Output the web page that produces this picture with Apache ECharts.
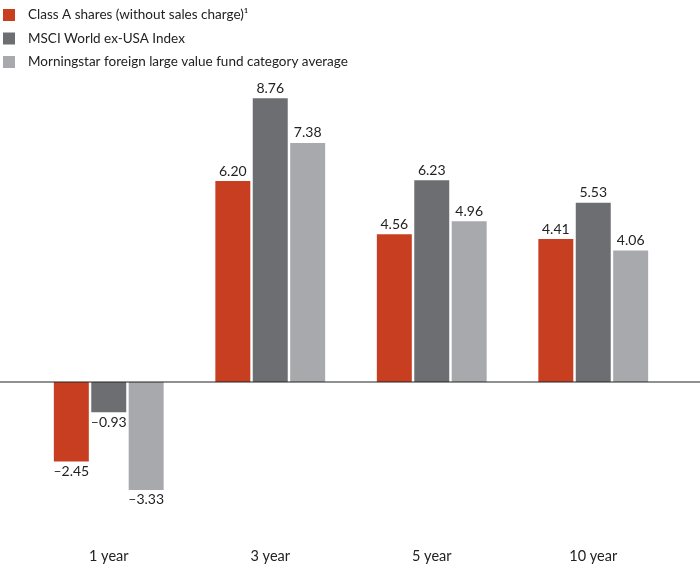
<!DOCTYPE html>
<html><head><meta charset="utf-8">
<script src="https://cdn.jsdelivr.net/npm/echarts@6/dist/echarts.min.js"></script>
<style>html,body{margin:0;padding:0;background:#fff}#c{width:700px;height:569px}</style>
</head><body><div id="c"></div>
<script>
const categories = ['1 year', '3 year', '5 year', '10 year'];
const seriesNames = ['Class A shares (without sales charge)\u00B9', 'MSCI World ex-USA Index', 'Morningstar foreign large value fund category average'];
const classA = [-2.45, 6.20, 4.56, 4.41];
const msci = [-0.93, 8.76, 6.23, 5.53];
const morningstar = [-3.33, 7.38, 4.96, 4.06];
const colors = ['#C73F20', '#6D6E71', '#A7A9AC'];
const FONT = 'Lato, "Open Sans", sans-serif';

function fmt(v) { return v < 0 ? '\u2013' + Math.abs(v).toFixed(2) : v.toFixed(2); }
function mk(arr) {
  return arr.map(v => ({ value: v, label: { position: v < 0 ? 'bottom' : 'top' } }));
}
const chart = echarts.init(document.getElementById('c'), null, { renderer: 'canvas' });
const allSeries = [classA, msci, morningstar].map((arr, i) => ({
  name: seriesNames[i], type: 'bar', data: mk(arr),
  barCategoryGap: '32%', barGap: '7%',
  itemStyle: { color: colors[i] },
  label: { show: true, distance: 3, color: '#222', fontSize: 14, fontFamily: FONT, formatter: p => fmt(p.value) }
}));
chart.setOption({
  animation: false,
  legend: {
    orient: 'vertical', left: -2, top: 3, itemWidth: 12, itemHeight: 12, itemGap: 9.5,
    icon: 'rect', textStyle: { fontSize: 13.5, color: '#222', fontFamily: FONT, padding: [0, 0, 0, 8] },
    data: seriesNames
  },
  grid: { left: 28, right: 26, top: 58, bottom: 57.4 },
  xAxis: {
    type: 'category', data: categories,
    axisLine: { show: false, onZero: false }, axisTick: { show: false },
    axisLabel: { margin: 37, fontSize: 14.5, color: '#222', fontFamily: FONT }
  },
  yAxis: { type: 'value', min: -4, max: 10, show: false, splitLine: { show: false } },
  series: allSeries
});
const y0 = chart.convertToPixel({ yAxisIndex: 0 }, 0);
chart.setOption({
  graphic: [{ type: 'line', shape: { x1: 0, y1: y0, x2: 700, y2: y0 }, style: { stroke: '#222', lineWidth: 1 }, z: 10 }]
});
</script></body></html>
